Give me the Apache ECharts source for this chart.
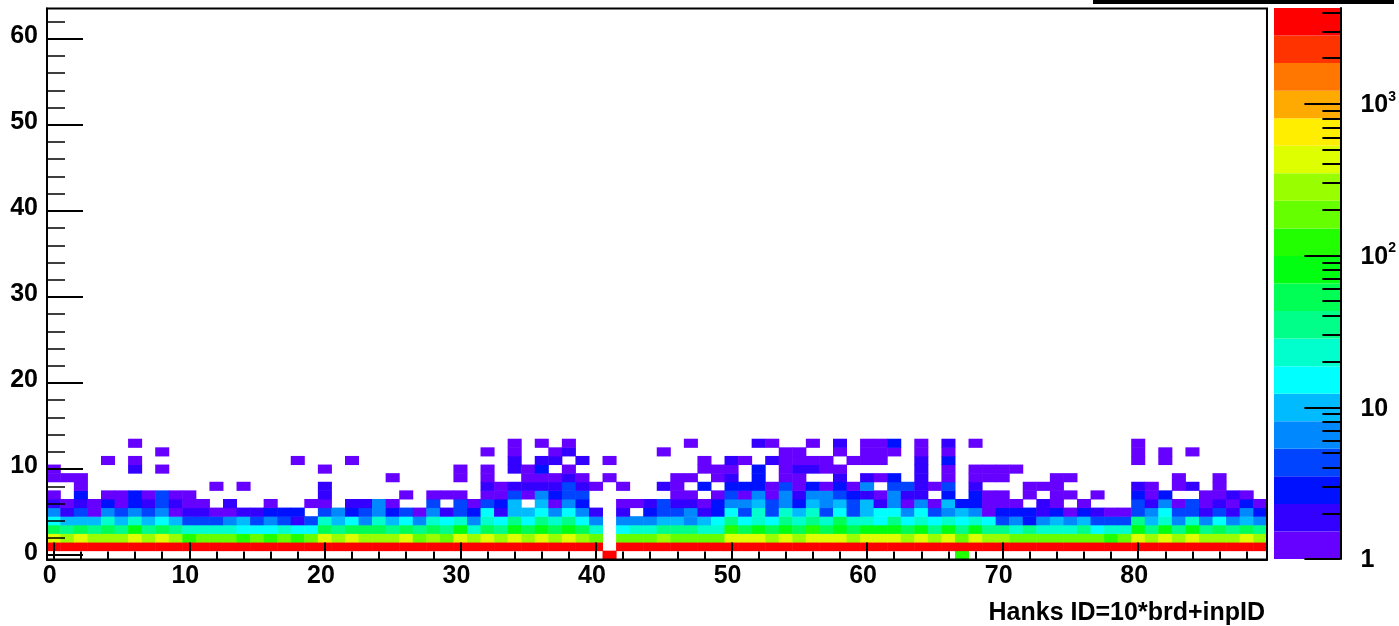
<!DOCTYPE html>
<html>
<head>
<meta charset="utf-8">
<style>html,body{margin:0;padding:0;background:#fff}#c{width:1399px;height:626px}</style>
<script src="https://cdn.jsdelivr.net/npm/echarts@6/dist/echarts.min.js"></script>
</head>
<body>
<div id="c"></div>
<script>
// Counts per bin, one array per y value (columns x = 0..89, 0 = empty bin)
const row0 = [0,0,0,0,0,0,0,0,0,0, 0,0,0,0,0,0,0,0,0,0, 0,0,0,0,0,0,0,0,0,0, 0,0,0,0,0,0,0,0,0,0, 0,3400,0,0,0,0,0,0,0,0, 0,0,0,0,0,0,0,0,0,0, 0,0,0,0,0,0,0,120,0,0, 0,0,0,0,0,0,0,0,0,0, 0,0,0,0,0,0,0,0,0,0];
const row1 = [3600,3600,3600,3600,3600,3600,3600,3600,3600,3600, 3600,3600,3600,3600,3600,3600,3600,3600,3600,3600, 3600,3600,3600,3600,3600,3600,3600,3600,3600,3600, 3600,3600,3600,3600,3600,3600,3600,3600,3600,3600, 3600,0,3600,3600,3600,3600,3600,3600,3600,3600, 3600,3600,3600,3600,3600,3600,3600,3600,3600,3600, 3600,3600,3600,3600,3600,3600,3600,3600,3600,3600, 3600,3600,3600,3600,3600,3600,3600,3600,3600,3600, 3600,3600,3600,3600,3600,3600,3600,3600,3600,3600];
const row2 = [425,280,425,280,280,280,425,280,425,280, 120,185,185,185,120,185,120,185,120,185, 425,280,425,280,280,280,425,185,280,185, 425,280,425,280,425,280,425,280,425,280, 185,0,185,185,185,280,185,185,185,185, 425,425,425,280,425,280,425,425,425,280, 425,425,425,280,425,280,425,185,425,280, 280,185,185,185,185,185,185,185,120,185, 425,280,425,280,425,280,280,280,425,280];
const row3 = [53,35,53,35,53,35,80,35,53,35, 23,23,23,23,15,15,15,23,15,15, 53,35,53,53,53,35,53,35,53,35, 80,23,53,35,80,53,80,53,80,53, 23,0,15,23,23,35,35,35,23,23, 120,53,80,53,80,53,120,53,80,53, 80,80,80,53,80,35,80,35,80,35, 35,23,35,23,23,23,35,15,23,23, 80,35,80,35,80,35,53,35,53,35];
const row4 = [15,10,10,10,23,10,23,10,15,10, 4,4,4,6,10,4,6,4,2,4, 23,10,15,6,23,10,15,6,23,15, 23,6,23,15,35,15,35,23,35,15, 6,0,6,6,6,10,10,6,10,15, 35,15,23,15,35,23,35,23,53,23, 23,15,35,15,23,15,23,15,23,15, 4,6,3,6,10,6,10,4,4,4, 35,10,23,6,23,6,15,6,10,6];
const row5 = [6,2,4,1,6,4,6,4,6,1, 2,2,1,1,2,2,3,3,3,0, 4,6,3,4,6,3,4,1,6,2, 4,3,15,2,10,10,15,6,15,6, 2,0,2,0,3,4,4,6,2,3, 15,4,23,4,23,10,23,4,15,4, 10,15,15,6,15,4,6,10,6,1, 3,3,3,2,3,1,3,2,1,1, 4,6,15,4,4,2,4,2,6,3];
const row6 = [2,1,2,1,3,1,3,2,4,2, 1,1,0,2,0,0,1,0,0,1, 1,0,2,2,6,1,0,0,4,0, 4,1,4,3,10,0,10,1,6,3, 0,0,1,1,2,4,2,2,1,3, 6,6,10,4,6,3,10,6,10,4, 10,2,6,1,6,1,10,3,3,1, 1,1,0,2,1,0,1,0,0,0, 4,2,6,1,4,1,2,1,3,1];
const row7 = [1,0,3,0,1,1,3,1,4,1, 1,0,0,0,0,0,0,0,0,0, 2,0,0,0,0,0,1,0,1,1, 1,0,1,1,4,1,6,3,4,4, 0,0,0,0,0,0,1,1,0,1, 4,1,6,1,6,2,6,6,4,3, 2,1,6,2,2,0,3,0,3,1, 1,0,1,0,1,1,0,1,0,0, 3,1,3,0,0,1,1,2,1,0];
const row8 = [0,0,1,0,0,0,0,0,0,0, 0,0,1,0,1,0,0,0,0,0, 2,0,0,0,0,0,0,0,0,0, 0,0,2,1,2,2,2,2,4,2, 1,0,1,0,0,2,1,0,3,0, 3,3,3,1,4,1,3,1,3,1, 6,0,4,4,2,1,4,0,2,0, 0,0,1,1,1,0,0,0,0,0, 2,1,0,1,2,0,1,0,0,0];
const row9 = [1,1,1,0,0,0,0,0,0,0, 0,0,0,0,0,0,0,0,0,0, 0,0,0,0,0,1,0,0,0,0, 1,0,1,0,0,1,1,1,2,1, 0,1,0,0,0,0,1,1,0,1, 2,0,3,0,1,1,0,0,2,0, 2,1,3,0,2,0,1,0,1,1, 1,0,0,0,1,1,0,0,0,0, 0,0,0,1,0,0,1,0,0,0];
const row10 = [1,0,0,0,0,0,2,0,1,0, 0,0,0,0,0,0,0,0,0,0, 1,0,0,0,0,0,0,0,0,0, 1,0,1,0,2,1,3,0,1,0, 0,0,0,0,0,0,0,0,1,1, 1,0,3,0,1,2,2,1,1,0, 0,0,0,0,2,0,1,0,1,1, 1,1,0,0,0,0,0,0,0,0, 0,0,0,0,0,0,0,0,0,0];
const row11 = [0,0,0,0,1,0,1,0,0,0, 0,0,0,0,0,0,0,0,1,0, 0,0,1,0,0,0,0,0,0,0, 0,0,0,0,2,0,2,2,0,2, 0,1,0,0,0,0,0,0,1,0, 2,1,0,2,1,1,1,1,0,1, 1,1,0,0,2,0,3,0,0,0, 0,0,0,0,0,0,0,0,0,0, 1,0,1,0,0,0,0,0,0,0];
const row12 = [0,0,0,0,0,0,0,0,1,0, 0,0,0,0,0,0,0,0,0,0, 0,0,0,0,0,0,0,0,0,0, 0,0,1,0,1,0,0,1,2,0, 0,0,0,0,0,1,0,0,0,0, 0,0,0,0,1,1,0,0,1,0, 1,1,1,0,1,0,1,0,0,0, 0,0,0,0,0,0,0,0,0,0, 1,0,1,0,1,0,0,0,0,0];
const row13 = [0,0,0,0,0,0,1,0,0,0, 0,0,0,0,0,0,0,0,0,0, 0,0,0,0,0,0,0,0,0,0, 0,0,0,0,1,0,1,0,1,0, 0,0,0,0,0,0,0,1,0,0, 0,0,2,1,0,0,1,0,2,0, 1,1,3,0,1,0,2,0,1,0, 0,0,0,0,0,0,0,0,0,0, 1,0,0,0,0,0,0,0,0,0];
const rows = [row0,row1,row2,row3,row4,row5,row6,row7,row8,row9,row10,row11,row12,row13];

const xCategories = Array.from({length:90},(_, i)=>String(i));
const yCategories = Array.from({length:64},(_, i)=>String(i));
const palette = ['#6600FF','#3300FF','#0011FF','#0044FF','#0088FF','#00BBFF','#00FFFF','#00FFCC','#00FF88','#00FF55','#00FF11','#22FF00','#66FF00','#99FF00','#DDFF00','#FFEE00','#FFAA00','#FF7700','#FF3300','#FF0000'];
const zMin = 1, zMax = 4280;
const zMajor = [1,10,100,1000];
const zMinor = [2,3,4,5,6,7,8,9,20,30,40,50,60,70,80,90,200,300,400,500,600,700,800,900,2000,3000,4000];
const xTitle = 'Hanks ID=10*brd+inpID';

const levels = palette.map((_, i)=>zMin*Math.pow(zMax/zMin,i/palette.length)).concat([zMax]);
const pieces = palette.map((color,i)=>({gte:levels[i],lt:i===palette.length-1?1e9:levels[i+1],color}));
const cells = [];
rows.forEach((r,y)=>r.forEach((v,x)=>{ if(v>0) cells.push([x,y,v]); }));
const FONT='"Liberation Sans"';
const black='#000';
const labelBase={color:black,fontFamily:FONT,fontWeight:'bold',fontSize:25};

const chart = echarts.init(document.getElementById('c'),null,{renderer:'canvas'});
chart.setOption({
  animation:false,
  backgroundColor:'#fff',
  title:{text:xTitle,right:134,top:601,textStyle:{color:black,fontFamily:FONT,fontWeight:'bold',fontSize:25},padding:0},
  grid:[
    {left:47,top:8.5,width:1220,height:551,show:true,backgroundColor:'transparent',borderColor:black,borderWidth:2,z:6},
    {left:1274,top:8,width:68.5,height:551}
  ],
  visualMap:{show:false,type:'piecewise',seriesIndex:0,dimension:2,pieces},
  xAxis:[
    {type:'category',gridIndex:0,data:xCategories,position:'bottom',z:5,
     axisLine:{show:true,onZero:false,lineStyle:{color:black,width:2}},
     axisTick:{show:true,inside:true,alignWithLabel:true,length:17,interval:i=>i%10===0,lineStyle:{color:black,width:2}},
     axisLabel:{...labelBase,margin:4,interval:i=>i%10===0,padding:[0,8,0,0]},splitLine:{show:false}},
    {type:'category',gridIndex:0,data:xCategories,position:'bottom',z:5,
     axisLine:{show:false,onZero:false},
     axisTick:{show:true,inside:true,alignWithLabel:true,length:8,interval:i=>i%2===0,lineStyle:{color:black,width:2}},
     axisLabel:{show:false},splitLine:{show:false}},
    {type:'category',gridIndex:1,data:['z'],show:false}
  ],
  yAxis:[
    {type:'category',gridIndex:0,data:yCategories,position:'left',z:5,
     axisLine:{show:true,onZero:false,lineStyle:{color:black,width:2}},
     axisTick:{show:true,inside:true,alignWithLabel:true,length:36,interval:i=>i%10===0,lineStyle:{color:black,width:2}},
     axisLabel:{...labelBase,margin:9,interval:i=>i%10===0,verticalAlign:'bottom',lineHeight:5},splitLine:{show:false}},
    {type:'category',gridIndex:0,data:yCategories,position:'left',z:5,
     axisLine:{show:false,onZero:false},
     axisTick:{show:true,inside:true,alignWithLabel:true,length:18,interval:i=>i%2===0,lineStyle:{color:black,width:1.5}},
     axisLabel:{show:false},splitLine:{show:false}},
    {type:'log',logBase:10,gridIndex:1,min:zMin,max:zMax,position:'right',z:5,
     axisLine:{show:true,onZero:false,lineStyle:{color:black,width:2}},
     axisTick:{show:true,inside:true,length:36,customValues:zMajor,lineStyle:{color:black,width:2}},
     axisLabel:{color:black,fontFamily:FONT,fontWeight:'bold',fontSize:25,margin:20,customValues:zMajor,
       formatter:v=>{const e=Math.round(Math.log10(v));return e<2?'{p|'+Math.round(v)+'}':'{b|10}{s|'+e+'}';},
       rich:{p:{color:black,fontFamily:FONT,fontWeight:'bold',fontSize:25,lineHeight:28,padding:[3,0,0,0]},
             b:{color:black,fontFamily:FONT,fontWeight:'bold',fontSize:25,lineHeight:28,verticalAlign:'bottom'},
             s:{color:black,fontFamily:FONT,fontWeight:'bold',fontSize:14,lineHeight:28,verticalAlign:'top',padding:[0,0,4,0]}}},
     splitLine:{show:false}},
    {type:'log',logBase:10,gridIndex:1,min:zMin,max:zMax,position:'right',z:5,
     axisLine:{show:false,onZero:false},
     axisTick:{show:true,inside:true,length:18,customValues:zMinor,lineStyle:{color:black,width:2}},
     axisLabel:{show:false},splitLine:{show:false}}
  ],
  series:[
    {type:'heatmap',xAxisIndex:0,yAxisIndex:0,data:cells,z:2,progressive:0,itemStyle:{borderWidth:0},emphasis:{disabled:true}},
    {type:'custom',xAxisIndex:2,yAxisIndex:2,z:2,silent:true,
     data:palette.map((c,i)=>['z',levels[i],levels[i+1],i]),
     encode:{x:0,y:[1,2]},
     renderItem:(params,api)=>{
       const lo=api.coord([0,api.value(1)]), hi=api.coord([0,api.value(2)]);
       const cs=params.coordSys;
       return {type:'rect',shape:{x:cs.x,y:hi[1],width:cs.width,height:lo[1]-hi[1]},style:{fill:palette[api.value(3)]}};
     }}
  ],
  graphic:[{type:'rect',left:1093,top:0,shape:{width:301,height:4},style:{fill:black},z:10}]
});
</script>
</body>
</html>
